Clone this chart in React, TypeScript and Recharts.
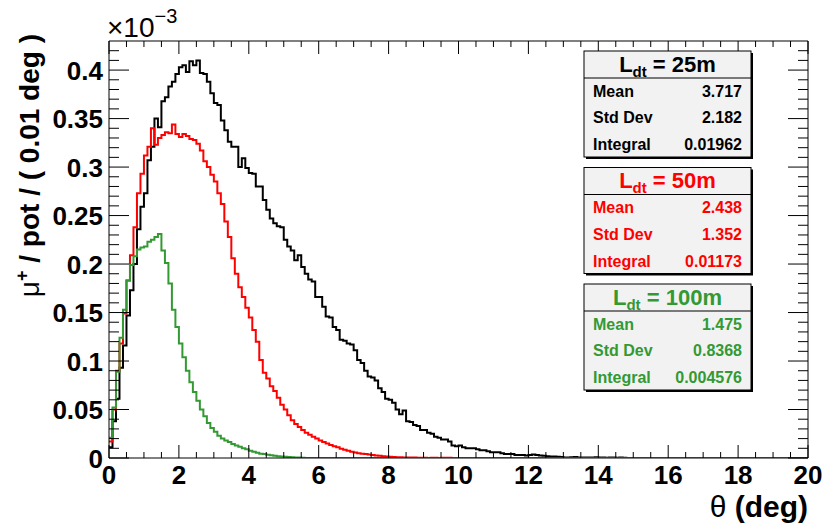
import React from 'react';
import { ComposedChart, Line, XAxis, YAxis } from 'recharts';

// ---- data (values in units of 1e-3 muons / pot / 0.01 deg), 0.1 deg bins starting at 0 ----
const binWidth = 0.1;
const nBins = 200;

const black25: number[] = [
  0.011, 0.038, 0.061, 0.093, 0.116, 0.147, 0.173, 0.200, 0.236, 0.259,
  0.273, 0.307, 0.321, 0.350, 0.341, 0.368, 0.372, 0.383, 0.388, 0.396,
  0.403, 0.405, 0.398, 0.409, 0.405, 0.410, 0.397, 0.396, 0.388, 0.376,
  0.366, 0.364, 0.348, 0.338, 0.326, 0.321, 0.321, 0.300, 0.309, 0.299,
  0.294, 0.293, 0.280, 0.280, 0.266, 0.256, 0.247, 0.242, 0.239, 0.238,
  0.225, 0.218, 0.214, 0.204, 0.209, 0.197, 0.190, 0.184, 0.182, 0.166,
  0.166, 0.156, 0.146, 0.145, 0.135, 0.132, 0.122, 0.121, 0.118, 0.117,
  0.111, 0.101, 0.098, 0.090, 0.084, 0.083, 0.080, 0.072, 0.068, 0.061,
  0.060, 0.057, 0.050, 0.045, 0.049, 0.038, 0.037, 0.034, 0.033, 0.029,
  0.029, 0.026, 0.025, 0.022, 0.021, 0.019, 0.019, 0.017, 0.013, 0.012,
  0.013, 0.011, 0.010, 0.010, 0.010, 0.009, 0.008, 0.008, 0.007, 0.006,
  0.006, 0.006, 0.005, 0.004, 0.004, 0.004, 0.003, 0.003, 0.003, 0.0025,
  0.003, 0.0035, 0.003, 0.0025, 0.0022, 0.0018, 0.0015, 0.0015, 0.0012, 0.001,
  0.0006, 0.0005, 0.0008, 0.001, 0.0006, 0.0004, 0.0005, 0.0004, 0.0006, 0.0007,
  0.0005, 0.0004, 0.0003, 0.0005, 0.0004, 0.0003, 0.0004, 0.0002,
];

const red50: number[] = [
  0.017, 0.050, 0.090, 0.118, 0.149, 0.183, 0.209, 0.238, 0.273, 0.293,
  0.312, 0.321, 0.340, 0.323, 0.330, 0.333, 0.336, 0.335, 0.344, 0.334,
  0.331, 0.334, 0.332, 0.329, 0.328, 0.324, 0.317, 0.306, 0.300, 0.292,
  0.285, 0.273, 0.262, 0.244, 0.228, 0.206, 0.190, 0.176, 0.166, 0.155,
  0.145, 0.132, 0.120, 0.101, 0.088, 0.082, 0.074, 0.069, 0.062, 0.055,
  0.050, 0.044, 0.039, 0.035, 0.032, 0.029, 0.026, 0.024, 0.022, 0.020,
  0.018, 0.0165, 0.015, 0.0135, 0.012, 0.011, 0.0095, 0.0085, 0.0075, 0.0065,
  0.0058, 0.005, 0.0045, 0.004, 0.0035, 0.003, 0.0026, 0.0022, 0.0018, 0.0015,
  0.0012, 0.001, 0.0008, 0.0007, 0.0006, 0.0005, 0.0004, 0.0004, 0.0003, 0.0003,
  0.0003, 0, 0.0003, 0.0002, 0, 0.0003, 0.0002, 0.0002,
];

const green100: number[] = [
  0.021, 0.052, 0.089, 0.124, 0.153, 0.183, 0.199, 0.208, 0.215, 0.217,
  0.218, 0.223, 0.225, 0.228, 0.231, 0.214, 0.201, 0.180, 0.153, 0.135,
  0.118, 0.104, 0.090, 0.078, 0.068, 0.059, 0.050, 0.043, 0.036, 0.031,
  0.027, 0.023, 0.020, 0.018, 0.0165, 0.0145, 0.013, 0.0115, 0.010, 0.009,
  0.0075, 0.0065, 0.0055, 0.0045, 0.004, 0.0033, 0.0028, 0.0023, 0.0019, 0.0016,
  0.0013, 0.001, 0.0008, 0.0006, 0.0005, 0.0003,
];

const xMajorTicks = [0, 2, 4, 6, 8, 10, 12, 14, 16, 18, 20];
const xTickLabels = ['0', '2', '4', '6', '8', '10', '12', '14', '16', '18', '20'];
const yMajorTicks = [0, 0.05, 0.1, 0.15, 0.2, 0.25, 0.3, 0.35, 0.4];
const yTickLabels = ['0', '0.05', '0.1', '0.15', '0.2', '0.25', '0.3', '0.35', '0.4'];

const statNames = ['Mean', 'Std Dev', 'Integral'];
const statTitles = ['25m', '50m', '100m'];
const statMeans = ['3.717', '2.438', '1.475'];
const statStdDevs = ['2.182', '1.352', '0.8368'];
const statIntegrals = ['0.01962', '0.01173', '0.004576'];
const seriesColors = ['#000000', '#ff0000', '#339933'];

// ---- derived table ----
const rows = Array.from({ length: nBins + 1 }, (_, i) => {
  const j = Math.min(i, nBins - 1);
  return {
    x: Number((i * binWidth).toFixed(1)),
    k: black25[j] ?? 0,
    r: red50[j] ?? 0,
    g: green100[j] ?? 0,
  };
});

const xMinor = Array.from({ length: 41 }, (_, i) => i * 0.5);
const yMinor = Array.from({ length: 43 }, (_, i) => Number((i * 0.01).toFixed(2)));

const FONT = '"Liberation Sans", Arial, Helvetica, sans-serif';

const majorIndex = (arr: number[], v: number) => arr.findIndex((m) => Math.abs(m - v) < 1e-6);

const LeftTick = (p: any) => {
  const { x, y, payload } = p;
  const idx = majorIndex(yMajorTicks, payload.value);
  const major = idx >= 0;
  return (
    <g>
      <line x1={x} x2={x + (major ? 20 : 10)} y1={y} y2={y} stroke="#000" strokeWidth={1} />
      {major && (
        <text x={x - 6} y={y + 9.5} textAnchor="end" fontFamily={FONT} fontWeight="bold" fontSize={26} fill="#000">
          {yTickLabels[idx]}
        </text>
      )}
    </g>
  );
};

const RightTick = (p: any) => {
  const { x, y, payload } = p;
  const major = majorIndex(yMajorTicks, payload.value) >= 0;
  return <line x1={x} x2={x - (major ? 20 : 10)} y1={y} y2={y} stroke="#000" strokeWidth={1} />;
};

const BottomTick = (p: any) => {
  const { x, y, payload } = p;
  const idx = majorIndex(xMajorTicks, payload.value);
  const major = idx >= 0;
  return (
    <g>
      <line x1={x} x2={x} y1={y} y2={y - (major ? 13 : 6)} stroke="#000" strokeWidth={1} />
      {major && (
        <text x={x} y={y + 26} textAnchor="middle" fontFamily={FONT} fontWeight="bold" fontSize={26} fill="#000">
          {xTickLabels[idx]}
        </text>
      )}
    </g>
  );
};

const TopTick = (p: any) => {
  const { x, y, payload } = p;
  const major = majorIndex(xMajorTicks, payload.value) >= 0;
  return <line x1={x} x2={x} y1={y} y2={y + (major ? 13 : 6)} stroke="#000" strokeWidth={1} />;
};

const boxTops = [51, 167.5, 284];

const StatBox = ({ i }: { i: number }) => {
  const top = boxTops[i];
  const left = 584;
  const w = 167;
  const h = 106;
  const c = seriesColors[i];
  const vals = [statMeans[i], statStdDevs[i], statIntegrals[i]];
  return (
    <g fontFamily={FONT} fontWeight="bold">
      <rect x={left + 2} y={top + 2} width={w} height={h} fill="#000" />
      <rect x={left} y={top} width={w} height={h} fill="#f2f2f2" stroke="#000" strokeWidth={1} />
      <line x1={left} x2={left + w} y1={top + 27} y2={top + 27} stroke="#000" strokeWidth={1} />
      <text x={left + w / 2} y={top + 20.5} textAnchor="middle" fontSize={22} fill={c}>
        L<tspan dy={5} fontSize={15}>dt</tspan>
        <tspan dy={-5}> = {statTitles[i]}</tspan>
      </text>
      {statNames.map((n, k) => (
        <g key={n}>
          <text x={left + 9} y={top + 45.7 + k * 26.7} fontSize={16} fill={c}>
            {n}
          </text>
          <text x={left + 158} y={top + 45.7 + k * 26.7} fontSize={16} fill={c} textAnchor="end">
            {vals[k]}
          </text>
        </g>
      ))}
    </g>
  );
};

export default function App() {
  return (
    <div style={{ position: 'absolute', left: 0, top: 0, width: 825, height: 524, background: '#fff' }}>
      <ComposedChart width={825} height={524} data={rows} margin={{ top: 40, right: 16, bottom: 65, left: 108 }}>
        <XAxis
          dataKey="x"
          type="number"
          domain={[0, 20]}
          allowDataOverflow
          ticks={xMinor}
          interval={0}
          tickSize={0}
          tickMargin={0}
          tickLine={false}
          axisLine={{ stroke: '#000', strokeWidth: 1 }}
          tick={(p: any) => <BottomTick {...p} />}
          height={1}
        />
        <XAxis
          xAxisId="top"
          orientation="top"
          dataKey="x"
          type="number"
          domain={[0, 20]}
          allowDataOverflow
          ticks={xMinor}
          interval={0}
          tickSize={0}
          tickMargin={0}
          tickLine={false}
          axisLine={{ stroke: '#000', strokeWidth: 1 }}
          tick={(p: any) => <TopTick {...p} />}
          height={1}
        />
        <YAxis
          type="number"
          domain={[0, 0.43]}
          allowDataOverflow
          ticks={yMinor}
          interval={0}
          tickSize={0}
          tickMargin={0}
          tickLine={false}
          axisLine={{ stroke: '#000', strokeWidth: 1 }}
          tick={(p: any) => <LeftTick {...p} />}
          width={1}
        />
        <YAxis
          yAxisId="right"
          orientation="right"
          type="number"
          domain={[0, 0.43]}
          allowDataOverflow
          ticks={yMinor}
          interval={0}
          tickSize={0}
          tickMargin={0}
          tickLine={false}
          axisLine={{ stroke: '#000', strokeWidth: 1 }}
          tick={(p: any) => <RightTick {...p} />}
          width={1}
        />
        <Line type="stepAfter" dataKey="k" stroke={seriesColors[0]} strokeWidth={2} dot={false} isAnimationActive={false} />
        <Line type="stepAfter" dataKey="r" stroke={seriesColors[1]} strokeWidth={2} dot={false} isAnimationActive={false} />
        <Line type="stepAfter" dataKey="g" stroke={seriesColors[2]} strokeWidth={2} dot={false} isAnimationActive={false} />
      </ComposedChart>
      <svg width={825} height={524} style={{ position: 'absolute', left: 0, top: 0, pointerEvents: 'none' }}>
        <text x={107} y={37} fontFamily={FONT} fontSize={28} fill="#000">
          ×10<tspan dy={-14} fontSize={20}>−3</tspan>
        </text>
        <text
          x={39}
          y={34}
          transform="rotate(-90 39 34)"
          textAnchor="end"
          fontFamily={FONT}
          fontWeight="bold"
          fontSize={28}
          fill="#000"
        >
          <tspan fontWeight="normal">μ</tspan>
          <tspan dy={-11} fontSize={18}>+</tspan>
          <tspan dy={11}> / pot / ( 0.01 deg )</tspan>
        </text>
        <text x={808} y={517} textAnchor="end" fontFamily={FONT} fontWeight="bold" fontSize={30} fill="#000">
          <tspan fontWeight="normal">θ</tspan> (deg)
        </text>
        <StatBox i={0} />
        <StatBox i={1} />
        <StatBox i={2} />
      </svg>
    </div>
  );
}
